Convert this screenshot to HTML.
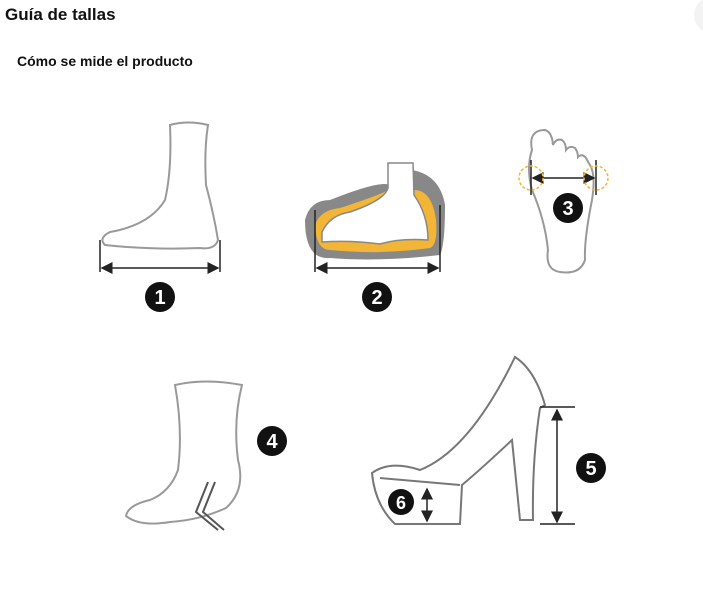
<!DOCTYPE html>
<html><head><meta charset="utf-8"><style>
body{margin:0;width:703px;height:598px;background:#fff;overflow:hidden;font-family:"Liberation Sans",sans-serif;position:relative}
.t{position:absolute;left:5px;top:5px;font-size:17px;font-weight:bold;color:#111}
.s{position:absolute;left:17px;top:53px;font-size:14px;font-weight:bold;color:#111}
svg{position:absolute;left:0;top:0}
</style></head><body>
<div class="t">Guía de tallas</div>
<div class="s">Cómo se mide el producto</div>
<svg width="703" height="598" viewBox="0 0 703 598">
<defs><marker id="a" markerWidth="8" markerHeight="8" refX="7" refY="4" orient="auto-start-reverse"><path d="M0,0 L8,4 L0,8 z" fill="#222"/></marker></defs>
<circle cx="712" cy="15" r="18" fill="#f3f3f3"/>
<g fill="none" stroke="#999" stroke-width="2">
<path d="M170,125 Q188,120 208,125 Q204,150 206,185 Q214,215 218,240 Q215,250 200,248 Q150,250 105,245 Q98,238 110,232 Q150,225 165,200 Q172,170 170,125 Z"/>
<path d="M175,385 Q205,378 242,385 Q233,420 238,460 Q246,490 226,508 Q200,520 170,522 Q140,527 126,516 Q128,505 150,500 Q170,492 178,470 Q183,430 175,385 Z"/>
<path d="M208,482 L196,512 L218,530" stroke="#555"/>
<path d="M215,482 L203,512 L224,530" stroke="#555"/>
<path d="M532,150 Q528,130 545,130 Q552,132 553,145 Q556,138 562,140 Q566,143 566,150 Q570,145 575,148 Q578,152 578,157 Q582,153 586,158 Q588,162 590,165 Q596,175 592,200 Q584,240 585,260 Q580,275 560,272 Q545,270 548,250 Q545,220 532,190 Q526,168 532,150 Z"/>
<path d="M372,473 Q390,460 420,470 Q470,450 515,357 Q535,370 545,405 L540,408 Q532,460 533,520 L520,520 L512,440 Q480,470 462,485 L460,524 L395,524 Q375,505 372,473 Z" stroke="#777"/>
<path d="M380,478 L460,485" stroke="#777"/>
</g>
<path d="M305,220 Q310,200 330,200 Q380,180 390,185 L410,185 L412,170 Q440,175 445,205 Q445,245 440,255 Q380,262 330,258 Q305,260 305,220 Z" fill="#888"/>
<path d="M315,225 Q320,210 340,208 Q380,195 388,190 L414,190 Q432,190 436,220 Q438,245 430,248 Q380,255 330,250 Q316,250 315,225 Z" fill="#f2b535"/>
<path d="M322,232 Q330,215 350,212 Q385,200 388,188 L388,163 L413,163 L414,195 Q428,215 428,240 Q400,238 380,244 Q350,240 322,242 Z" fill="#fff" stroke="#888" stroke-width="1.5"/>
<g stroke="#222" stroke-width="1.5">
<line x1="102" y1="268" x2="218" y2="268" marker-start="url(#a)" marker-end="url(#a)"/>
<line x1="100" y1="240" x2="100" y2="272"/><line x1="220" y1="240" x2="220" y2="272"/>
<line x1="317" y1="268" x2="438" y2="268" marker-start="url(#a)" marker-end="url(#a)"/>
<line x1="315" y1="210" x2="315" y2="272"/><line x1="440" y1="205" x2="440" y2="272"/>
<line x1="533" y1="178" x2="594" y2="178" marker-start="url(#a)" marker-end="url(#a)"/>
<line x1="531" y1="160" x2="531" y2="195"/><line x1="596" y1="160" x2="596" y2="195"/>
<line x1="557" y1="410" x2="557" y2="522" marker-start="url(#a)" marker-end="url(#a)"/>
<line x1="540" y1="407" x2="575" y2="407"/><line x1="540" y1="524" x2="575" y2="524"/>
<line x1="427" y1="489" x2="427" y2="521" marker-start="url(#a)" marker-end="url(#a)"/>
</g>
<circle cx="531" cy="178" r="12" fill="none" stroke="#f2b535" stroke-width="1.5" stroke-dasharray="3,2"/>
<circle cx="596" cy="178" r="12" fill="none" stroke="#f2b535" stroke-width="1.5" stroke-dasharray="3,2"/>
<g font-family="Liberation Sans,sans-serif" font-weight="bold" font-size="20" fill="#fff" text-anchor="middle">
<circle cx="160" cy="297" r="15" fill="#111"/><text x="160" y="304">1</text>
<circle cx="377" cy="297" r="15" fill="#111"/><text x="377" y="304">2</text>
<circle cx="568" cy="208" r="15" fill="#111"/><text x="568" y="215">3</text>
<circle cx="272" cy="441" r="15" fill="#111"/><text x="272" y="448">4</text>
<circle cx="591" cy="468" r="15" fill="#111"/><text x="591" y="475">5</text>
<circle cx="401" cy="502" r="13" fill="#111"/><text x="401" y="509" font-size="18">6</text>
</g>
</svg>
</body></html>
